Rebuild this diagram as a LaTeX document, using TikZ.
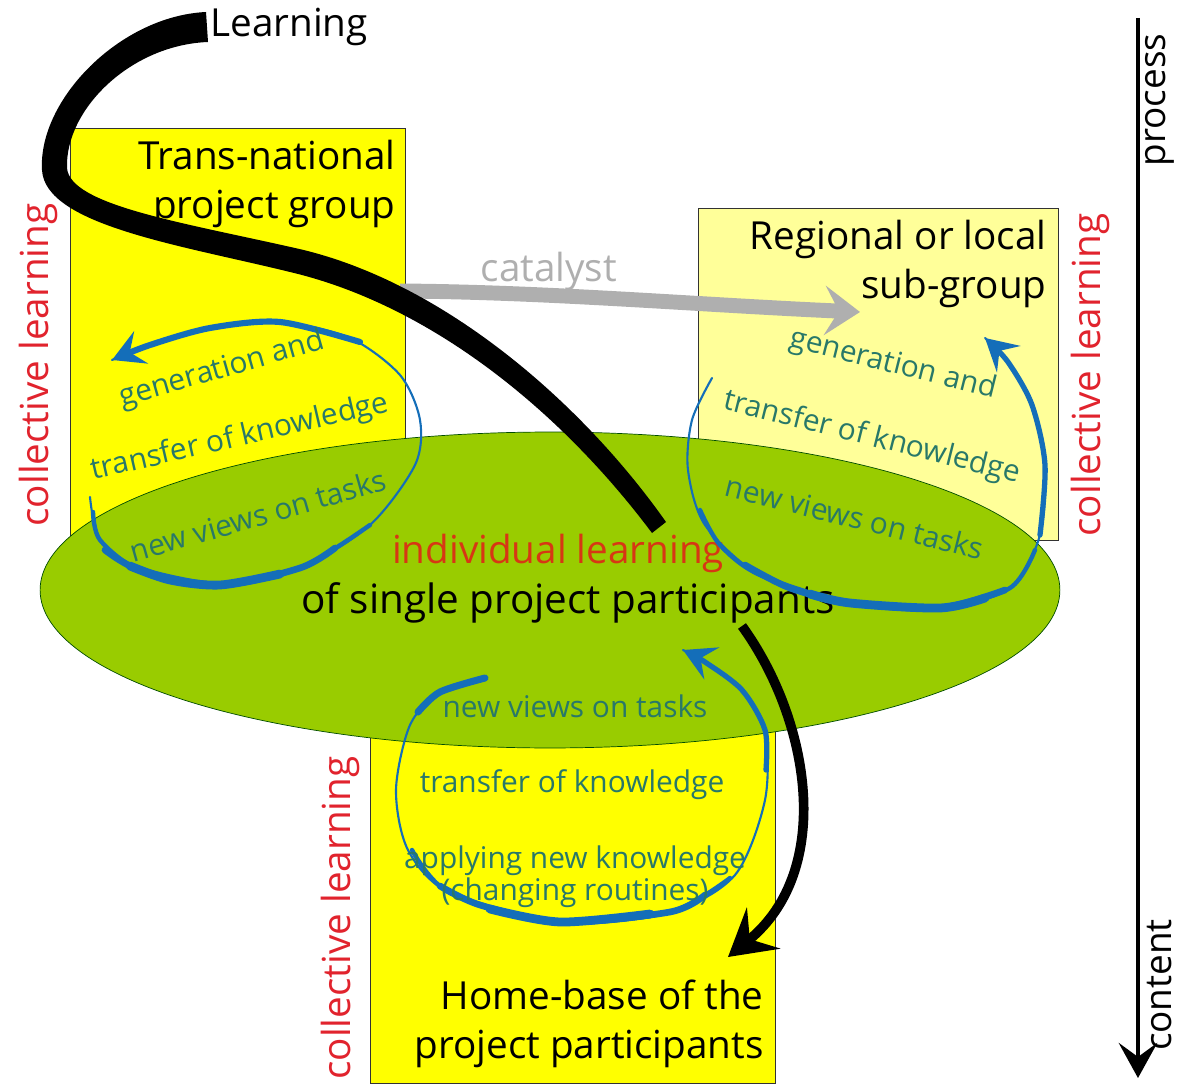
\documentclass[tikz,border=0pt]{standalone}
\usepackage{fontspec}
\setmainfont{Open Sans}
\usetikzlibrary{arrows.meta,positioning,shapes.geometric}
\definecolor{boxYellow}{RGB}{255,255,0}
\definecolor{paleYellow}{RGB}{255,255,153}
\definecolor{leafGreen}{RGB}{153,204,0}
\definecolor{loopBlue}{RGB}{20,110,185}
\definecolor{loopGreen}{RGB}{40,120,105}
\definecolor{learnRed}{RGB}{225,35,45}
\definecolor{indivRed}{RGB}{215,55,20}
\definecolor{catGray}{RGB}{175,175,175}
\begin{document}
\begin{tikzpicture}[x=0.02cm, y=-0.02cm,
  box/.style={draw=black!80, thin, rectangle, inner sep=0pt},
  boxText/.style={font=\fontsize{22}{28}\selectfont, align=right, inner sep=0pt},
  loopText/.style={text=loopGreen, font=\fontsize{17}{18}\selectfont, inner sep=0pt},
  collText/.style={text=learnRed, font=\fontsize{22}{26}\selectfont, rotate=90, inner sep=0pt},
  loopArrow/.style={draw=loopBlue, line cap=round, line join=round}]
\useasboundingbox (0,0) rectangle (1181,1088);

% the three groups
\node[box, fill=boxYellow, minimum width=6.7cm, minimum height=8.14cm] (transBox) at (237.5,331.5) {};
\node[box, fill=paleYellow, minimum width=7.2cm, minimum height=6.64cm] (regionBox) at (878,374) {};
\node[box, fill=boxYellow, minimum width=8.1cm, minimum height=7.66cm] (homeBox) at (572.5,891.5) {};
\node[draw=black!70!green, fill=leafGreen, ellipse, minimum width=20.4cm, minimum height=6.32cm, inner sep=0pt] (indiv) at (550,590) {};

\node[boxText, anchor=north east] (transText) at (396,140) {Trans-national\\project group};
\node[boxText, anchor=north east] (regionText) at (1047,220) {Regional or local\\sub-group};
\node[boxText, anchor=south east] (homeText) at (764,1068) {Home-base of the\\project participants};
\node[text=indivRed, font=\fontsize{22}{26}\selectfont] (indivText) at (558,553) {individual learning};
\node[font=\fontsize{23}{26}\selectfont] (singleText) at (568,603) {of single project participants};

\node[collText] (collLeft) at (38,365) {collective learning};
\node[collText] (collRight) at (1090,375) {collective learning};
\node[collText] (collHome) at (340,918) {collective learning};

% catalyst
\coordinate (catStart) at (400,291);
\coordinate (catEnd) at (860,312);
\draw[catGray, line width=8.5pt, -{Stealth[length=20pt, width=28pt, inset=8pt]}] (catStart) .. controls (550,292) and (700,305) .. (catEnd) node[pos=0.33, above=-5pt, text=catGray, font=\fontsize{22}{26}\selectfont] (catText) {catalyst};

% left loop
\draw[loopArrow, line width=1.2pt] plot[smooth] coordinates {(90,497) (100,540) (140,570) (220,585) (300,568) (370,525) (415,465) (420,420) (400,375) (350,338) (280,322) (210,328) (150,345) (112,360)};
\draw[loopArrow, line width=2.5pt] plot[smooth] coordinates {(93,512) (100,540) (140,570) (220,585) (300,568) (370,525)};
\draw[loopArrow, line width=3.8pt] plot[smooth] coordinates {(105,550) (140,570) (220,585) (300,568) (335,548)};
\draw[loopArrow, line width=5pt] plot[smooth] coordinates {(130,566) (170,580) (220,585) (280,574)};
\draw[loopArrow, line width=3.5pt, -{Stealth[length=18pt, width=20pt, inset=7pt]}] plot[smooth] coordinates {(360,342) (280,322) (210,328) (150,345) (112,360)};
\node[loopText, rotate=16] (genLeft) at (222,370) {generation and};
\node[loopText, rotate=13] (transLeft) at (240,438) {transfer of knowledge};
\node[loopText, rotate=16] (viewsLeft) at (258,515) {new views on tasks};

% right loop
\draw[loopArrow, line width=1.2pt] plot[smooth] coordinates {(712,378) (692,420) (688,470) (705,525) (760,575) (850,603) (940,608) (1010,588) (1040,535) (1045,465) (1032,405) (1008,362) (985,338)};
\draw[loopArrow, line width=2.5pt] plot[smooth] coordinates {(700,510) (720,545) (760,575) (850,603) (940,608) (1010,588) (1035,550)};
\draw[loopArrow, line width=3.8pt] plot[smooth] coordinates {(745,565) (790,588) (850,603) (940,608) (1005,590)};
\draw[loopArrow, line width=5pt] plot[smooth] coordinates {(810,594) (850,603) (940,608) (985,598)};
\draw[loopArrow, line width=3pt, -{Stealth[length=18pt, width=20pt, inset=7pt]}] plot[smooth] coordinates {(1040,535) (1045,465) (1032,405) (1008,362) (985,338)};
\node[loopText, rotate=-14] (genRight) at (893,365) {generation and};
\node[loopText, rotate=-14] (transRight) at (872,438) {transfer of knowledge};
\node[loopText, rotate=-14] (viewsRight) at (855,517) {new views on tasks};

% home loop
\draw[loopArrow, line width=1.2pt] plot[smooth] coordinates {(485,678) (440,692) (410,725) (396,790) (408,850) (450,893) (560,922) (670,912) (735,875) (765,800) (765,730) (742,690) (705,662) (683,650)};
\draw[loopArrow, line width=4pt] plot[smooth] coordinates {(485,678) (440,692) (418,712)};
\draw[loopArrow, line width=2.5pt] plot[smooth] coordinates {(412,850) (450,893) (560,922) (670,912) (730,878)};
\draw[loopArrow, line width=3.8pt] plot[smooth] coordinates {(440,886) (480,905) (560,922) (670,912) (705,895)};
\draw[loopArrow, line width=5pt] plot[smooth] coordinates {(490,909) (560,922) (650,914)};
\draw[loopArrow, line width=3pt, -{Stealth[length=18pt, width=20pt, inset=7pt]}] plot[smooth] coordinates {(766,770) (765,730) (742,690) (705,662) (683,650)};
\node[loopText] (viewsHome) at (575,706) {new views on tasks};
\node[loopText] (transHome) at (572,785) {transfer of knowledge};
\node[loopText, align=center] (applyHome) at (575,877) {applying new knowledge\\(changing routines)};

% learning
\node[anchor=west, font=\fontsize{22}{26}\selectfont, inner sep=0pt] (learnText) at (210,27) {Learning};
\fill[black] (208,42) .. controls (130,45) and (65,110) .. (67,168) .. controls (70,205) and (180,222) .. (295,248) .. controls (440,280) and (580,400) .. (666,522)
  -- (652,533) .. controls (560,410) and (430,305) .. (290,272) .. controls (180,245) and (45,225) .. (42,170) .. controls (38,100) and (120,16) .. (206,12) -- cycle;
\coordinate (partStart) at (742,626);
\coordinate (homeEnd) at (728,957);
\draw[line width=5.5pt, -{Stealth[length=26pt, width=30pt, inset=10pt]}] (partStart) .. controls (810,720) and (835,870) .. (homeEnd);

% process / content
\coordinate (axisTop) at (1138,18);
\coordinate (axisBottom) at (1138,1078);
\draw[line width=1.8pt, -{Stealth[length=20pt, width=22pt, inset=8pt]}] (axisTop) -- (axisBottom);
\node[rotate=90, font=\fontsize{21}{24}\selectfont] (processText) at (1160,100) {process};
\node[rotate=90, font=\fontsize{21}{24}\selectfont] (contentText) at (1160,985) {content};
\end{tikzpicture}
\end{document}
